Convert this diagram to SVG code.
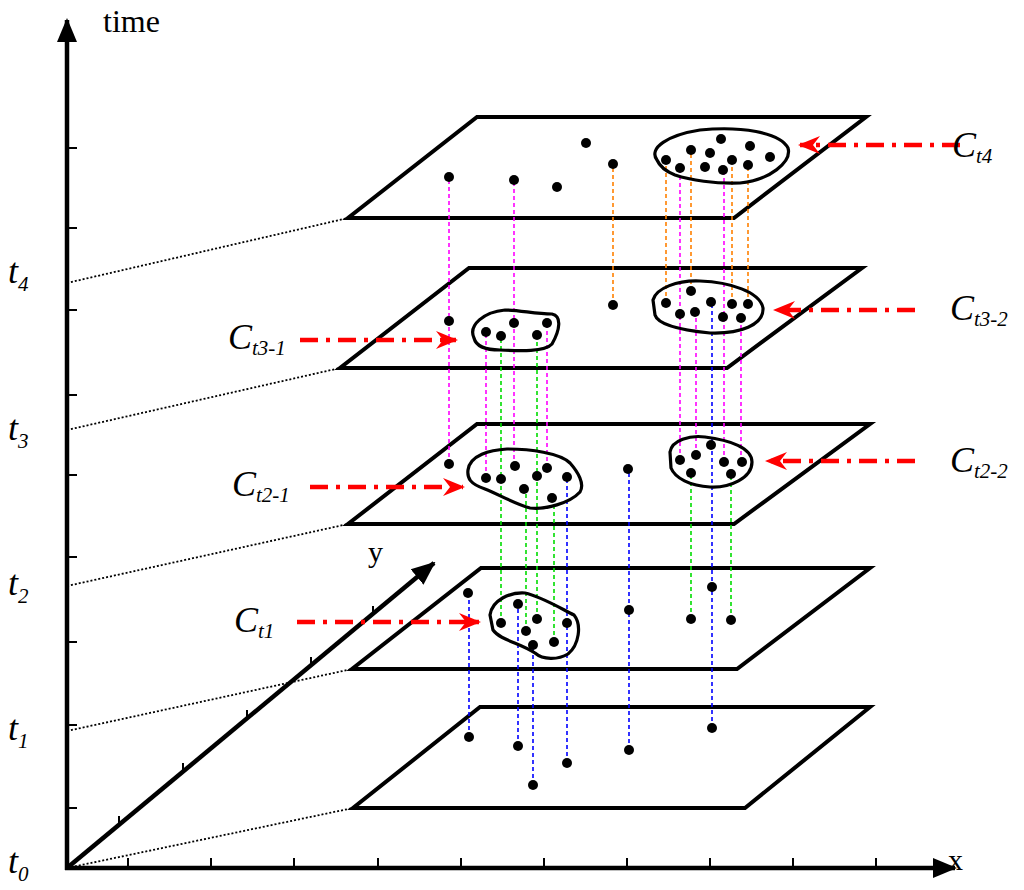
<svg xmlns="http://www.w3.org/2000/svg" width="1024" height="890" viewBox="0 0 1024 890">
<style>
.pl{fill:none;stroke:#000;stroke-width:4;stroke-linejoin:miter}
.dot{stroke:#000;stroke-width:1.8;stroke-dasharray:2,2;fill:none}
.blob{fill:none;stroke:#000;stroke-width:3.2}
.v{stroke-width:1.6;stroke-dasharray:4,3;fill:none}
.b{stroke:#0000ff}.g{stroke:#00dd00}.m{stroke:#ff00ff}.o{stroke:#ff8000}
.ra{stroke:#ff0000;stroke-width:4.5;fill:none;stroke-dasharray:18,8,4,8}
.tk{stroke:#000;stroke-width:2}
text{font-family:"Liberation Serif",serif;fill:#000}
.lab{font-style:italic;font-size:36px}
.sub{font-style:italic;font-size:21px}
</style>
<defs>
<marker id="ah" viewBox="0 0 22 18" refX="20" refY="9" markerWidth="22" markerHeight="18" markerUnits="userSpaceOnUse" orient="auto">
<path d="M0,0 L22,9 L0,18 L7,9 Z" fill="#ff0000"/>
</marker>
<marker id="ax" viewBox="0 0 24 24" refX="22" refY="12" markerWidth="24" markerHeight="24" markerUnits="userSpaceOnUse" orient="auto">
<path d="M0,2 L24,12 L0,22 Z" fill="#000"/>
</marker>
</defs>
<g id="axes">
<line x1="67" y1="870" x2="67" y2="20" stroke="#000" stroke-width="4.5" marker-end="url(#ax)"/>
<line x1="65" y1="868" x2="955" y2="868" stroke="#000" stroke-width="4.5" marker-end="url(#ax)"/>
<line x1="67" y1="868" x2="434" y2="563" stroke="#000" stroke-width="4.5" marker-end="url(#ax)"/>
<path class="tk" d="M67,808h10M67,725h10M67,642h10M67,557h10M67,475h10M67,395h10M67,310h10M67,228h10M67,148h10"/>
<path class="tk" d="M128,868v-10M211,868v-10M294,868v-10M378,868v-10M461,868v-10M544,868v-10M627,868v-10M710,868v-10M793,868v-10M876,868v-10"/>
<path class="tk" d="M119,825v-9M183,772v-9M247,719v-9M311,666v-9M373,615v-9"/>
<text x="103" y="32" font-size="32">time</text>
<text x="948" y="870" font-size="30">x</text>
<text x="368" y="562" font-size="30">y</text>
<text x="8" y="873" class="lab">t<tspan class="sub" dy="8">0</tspan></text>
<text x="8" y="740" class="lab">t<tspan class="sub" dy="8">1</tspan></text>
<text x="8" y="595" class="lab">t<tspan class="sub" dy="8">2</tspan></text>
<text x="8" y="440" class="lab">t<tspan class="sub" dy="8">3</tspan></text>
<text x="8" y="283" class="lab">t<tspan class="sub" dy="8">4</tspan></text>
</g>
<g id="guides">
<line class="dot" x1="67" y1="868" x2="353" y2="808"/>
<line class="dot" x1="67" y1="731" x2="352" y2="669"/>
<line class="dot" x1="67" y1="586" x2="348" y2="524"/>
<line class="dot" x1="67" y1="430" x2="340" y2="368"/>
<line class="dot" x1="67" y1="283" x2="348" y2="218"/>
</g>
<g id="plane0"><path class="pl" d="M480,707H870L745,808H353Z"/></g>
<g id="plane1"><path class="pl" d="M481,568H870L737,669H352Z"/></g>
<g id="plane2"><path class="pl" d="M477,424H870L734,524H348Z"/></g>
<g id="plane3"><path class="pl" d="M469,268H862L727,368H340Z"/></g>
<g id="plane4"><path class="pl" d="M477,117H866L734,218H348Z"/></g>
<g id="connectors">
<path class="v b" d="M469,737V593M518,746V604M533,785V645M567,763V477M629,750V469M712,728V302"/>
<path class="v g" d="M501,623V336M526,631V489M537,619V335M554,642V498M691,619V473M731,620V474"/>
<path class="v m" d="M449,464V177M486,478V332M514,466V180M547,468V323M680,460V168M696,455V312M724,462V170M741,462V318"/>
<path class="v o" d="M613,305V164M666,303V160M691,291V150M732,304V160M748,304V165"/>
</g>
<g id="clusters">
<path class="blob" d="M657,160 C648,148 668,135 700,130 C740,126 780,132 788,148 C792,162 770,180 740,183 C715,184 690,180 675,175 C665,171 660,167 657,160Z"/>
<path class="blob" d="M474,338 C468,325 484,312 505,310 C520,310 535,314 552,314 C562,316 560,330 552,344 C545,352 520,351 500,350 C485,350 476,346 474,338Z"/>
<path class="blob" d="M653,300 C656,288 678,280 700,281 C730,282 760,292 763,308 C764,325 740,334 710,333 C680,330 658,325 655,315 Z"/>
<path class="blob" d="M468,470 C470,455 490,450 507,449 C530,449 560,453 570,463 C578,472 585,484 580,492 C570,503 545,510 530,508 C515,504 500,495 485,489 C470,484 467,478 468,470Z"/>
<path class="blob" d="M670,452 C672,440 690,435 705,437 C730,440 752,448 752,462 C752,478 730,488 710,487 C690,486 675,478 671,468 Z"/>
<path class="blob" d="M490,615 C492,600 510,592 525,593 C540,596 560,608 574,615 C582,625 579,645 568,654 C558,660 543,660 535,653 C520,643 500,640 493,630 Z"/>
</g>
<g id="points" fill="#000">
<circle cx="449" cy="177" r="5"/><circle cx="514" cy="180" r="5"/><circle cx="557" cy="187" r="5"/><circle cx="586" cy="143" r="5"/><circle cx="613" cy="164" r="5"/>
<circle cx="666" cy="160" r="5"/><circle cx="680" cy="168" r="5"/><circle cx="691" cy="150" r="5"/><circle cx="710" cy="153" r="5"/><circle cx="721" cy="139" r="5"/><circle cx="705" cy="167" r="5"/><circle cx="723" cy="170" r="5"/><circle cx="732" cy="160" r="5"/><circle cx="750" cy="146" r="5"/><circle cx="748" cy="165" r="5"/><circle cx="770" cy="157" r="5"/>
<circle cx="449" cy="321" r="5"/><circle cx="613" cy="305" r="5"/>
<circle cx="486" cy="332" r="5"/><circle cx="501" cy="336" r="5"/><circle cx="514" cy="323" r="5"/><circle cx="537" cy="335" r="5"/><circle cx="547" cy="323" r="5"/>
<circle cx="666" cy="303" r="5"/><circle cx="680" cy="314" r="5"/><circle cx="691" cy="291" r="5"/><circle cx="695" cy="312" r="5"/><circle cx="711" cy="302" r="5"/><circle cx="732" cy="304" r="5"/><circle cx="723" cy="317" r="5"/><circle cx="748" cy="304" r="5"/><circle cx="741" cy="318" r="5"/>
<circle cx="449" cy="464" r="5"/><circle cx="486" cy="478" r="5"/><circle cx="501" cy="479" r="5"/><circle cx="515" cy="466" r="5"/><circle cx="537" cy="476" r="5"/><circle cx="547" cy="468" r="5"/><circle cx="524" cy="489" r="5"/><circle cx="552" cy="498" r="5"/><circle cx="567" cy="477" r="5"/><circle cx="628" cy="469" r="5"/>
<circle cx="680" cy="460" r="5"/><circle cx="696" cy="455" r="5"/><circle cx="711" cy="445" r="5"/><circle cx="691" cy="473" r="5"/><circle cx="724" cy="462" r="5"/><circle cx="742" cy="462" r="5"/><circle cx="731" cy="474" r="5"/>
<circle cx="468" cy="593" r="5"/><circle cx="518" cy="604" r="5"/><circle cx="501" cy="623" r="5"/><circle cx="537" cy="619" r="5"/><circle cx="526" cy="631" r="5"/><circle cx="533" cy="645" r="5"/><circle cx="554" cy="642" r="5"/><circle cx="567" cy="623" r="5"/><circle cx="629" cy="610" r="5"/><circle cx="691" cy="619" r="5"/><circle cx="712" cy="587" r="5"/><circle cx="731" cy="620" r="5"/>
<circle cx="469" cy="737" r="5"/><circle cx="518" cy="746" r="5"/><circle cx="533" cy="785" r="5"/><circle cx="567" cy="763" r="5"/><circle cx="629" cy="750" r="5"/><circle cx="712" cy="728" r="5"/>
</g>
<g id="labels">
<line class="ra" x1="960" y1="145" x2="800" y2="145" marker-end="url(#ah)"/>
<line class="ra" x1="915" y1="310" x2="775" y2="310" marker-end="url(#ah)"/>
<line class="ra" x1="915" y1="461" x2="767" y2="461" marker-end="url(#ah)"/>
<line class="ra" x1="300" y1="340" x2="456" y2="340" marker-end="url(#ah)"/>
<line class="ra" x1="310" y1="487" x2="463" y2="487" marker-end="url(#ah)"/>
<line class="ra" x1="297" y1="622" x2="479" y2="622" marker-end="url(#ah)"/>
<text x="952" y="157" class="lab">C<tspan class="sub" dy="6">t4</tspan></text>
<text x="950" y="320" class="lab">C<tspan class="sub" dy="6">t3-2</tspan></text>
<text x="950" y="472" class="lab">C<tspan class="sub" dy="6">t2-2</tspan></text>
<text x="228" y="349" class="lab">C<tspan class="sub" dy="6">t3-1</tspan></text>
<text x="232" y="496" class="lab">C<tspan class="sub" dy="6">t2-1</tspan></text>
<text x="234" y="632" class="lab">C<tspan class="sub" dy="6">t1</tspan></text>
</g>
</svg>
